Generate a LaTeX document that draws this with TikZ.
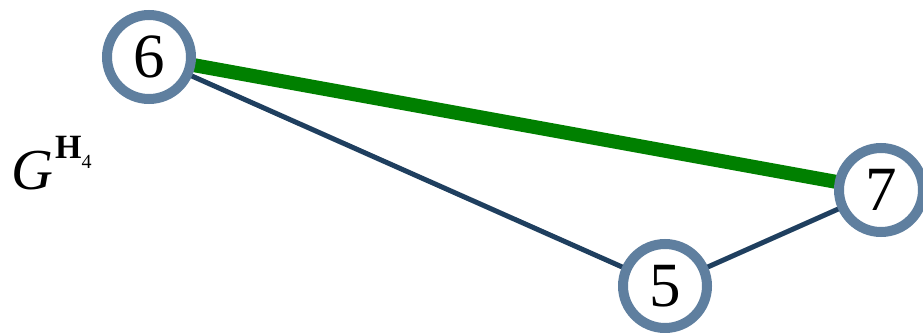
\documentclass[tikz,border=0pt]{standalone}
\usepackage{fontspec}
\setmainfont{Liberation Serif}
\definecolor{ringc}{HTML}{5F7F9F}
\definecolor{edgec}{HTML}{1F3F5F}
\definecolor{greenc}{RGB}{0,128,0}
\begin{document}
\begin{tikzpicture}[x=1pt,y=-1pt,
  vtx/.style={circle,draw=ringc,line width=10pt,fill=white,minimum size=84pt,inner sep=0pt,font=\fontsize{63}{70}\selectfont},
  plainedge/.style={draw=edgec,line width=5pt},
  hiedge/.style={draw=greenc,line width=14pt}]
\useasboundingbox (0,0) rectangle (923,332);
\coordinate (c6) at (149,57);
\coordinate (c5) at (665,286);
\coordinate (c7) at (881,190);
\draw[plainedge] (c6) -- (c5);
\draw[plainedge] (c5) -- (c7);
\draw[hiedge] (c6) -- (c7);
\node[vtx] (n6) at (c6) {6};
\node[vtx] (n5) at (c5) {5};
\node[vtx] (n7) at (c7) {7};
\node[anchor=base west,inner sep=0pt] (lbl) at (11,189) {\fontsize{58}{70}\selectfont\itshape G\upshape\hspace{2pt}\raisebox{31pt}{\fontsize{34}{38}\selectfont\bfseries H}\raisebox{21pt}{\fontsize{20}{22}\selectfont 4}};
\end{tikzpicture}
\end{document}
